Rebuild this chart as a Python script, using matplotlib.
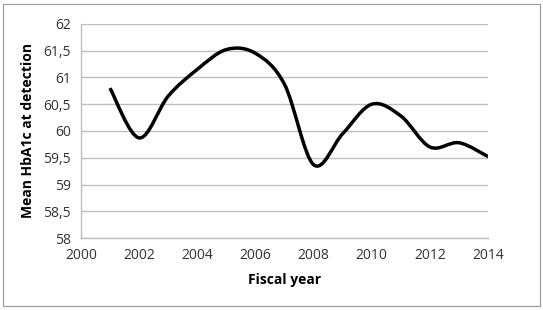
import numpy as np
import matplotlib
matplotlib.use("Agg")
import matplotlib.pyplot as plt
from matplotlib.path import Path
from matplotlib.patches import PathPatch, Rectangle
from matplotlib.ticker import FuncFormatter

years = [2001, 2002, 2003, 2004, 2005, 2006, 2007, 2008, 2009, 2010, 2011, 2012, 2013, 2014]
hba1c = [60.8, 59.87, 60.65, 61.15, 61.52, 61.45, 60.87, 59.37, 59.95, 60.5, 60.28, 59.7, 59.78, 59.52]

x_ticks = [2000, 2002, 2004, 2006, 2008, 2010, 2012, 2014]
y_ticks = [58, 58.5, 59, 59.5, 60, 60.5, 61, 61.5, 62]

plt.rcParams["font.family"] = ["Open Sans", "DejaVu Sans"]


def smooth_path(xs, ys):
    # Excel-like smoothed line: Catmull-Rom segments as cubic Beziers
    pts = np.column_stack([xs, ys]).astype(float)
    ext = np.vstack([pts[0], pts, pts[-1]])
    verts = [tuple(pts[0])]
    codes = [Path.MOVETO]
    for i in range(1, len(ext) - 2):
        p0, p1, p2, p3 = ext[i - 1], ext[i], ext[i + 1], ext[i + 2]
        c1 = p1 + (p2 - p0) / 6
        c2 = p2 - (p3 - p1) / 6
        verts += [tuple(c1), tuple(c2), tuple(p2)]
        codes += [Path.CURVE4] * 3
    return Path(verts, codes)


fig = plt.figure(figsize=(5.43, 3.10), dpi=100)
ax = fig.add_axes([0.149, 0.232, 0.750, 0.691])

ax.add_patch(PathPatch(smooth_path(years, hba1c), facecolor="none",
                       edgecolor="black", linewidth=2.5, capstyle="butt",
                       joinstyle="round", zorder=3))

ax.set_xlim(2000, 2014)
ax.set_ylim(58, 62)
ax.set_xticks(x_ticks)
ax.set_yticks(y_ticks)
ax.yaxis.set_major_formatter(FuncFormatter(lambda v, p: f"{v:g}".replace(".", ",")))
ax.grid(axis="y", color="#BEBEBE", linewidth=1.0)
ax.set_axisbelow(True)
for side in ["top", "right"]:
    ax.spines[side].set_visible(False)
for side in ["left", "bottom"]:
    ax.spines[side].set_color("#BEBEBE")
    ax.spines[side].set_linewidth(1.0)
ax.tick_params(length=0, labelsize=10, colors="#333333", pad=7)
ax.set_xlabel("Fiscal year", fontsize=10, fontweight="bold", labelpad=7)
ax.set_ylabel("Mean HbA1c at detection", fontsize=10, fontweight="bold", labelpad=6)

fig.patches.append(Rectangle((3 / 543, 4 / 310), 537 / 543, 302 / 310,
                             transform=fig.transFigure, fill=False,
                             edgecolor="#A0A0A0", linewidth=0.9))

fig.savefig("out.png", dpi=100)
plt.close()
